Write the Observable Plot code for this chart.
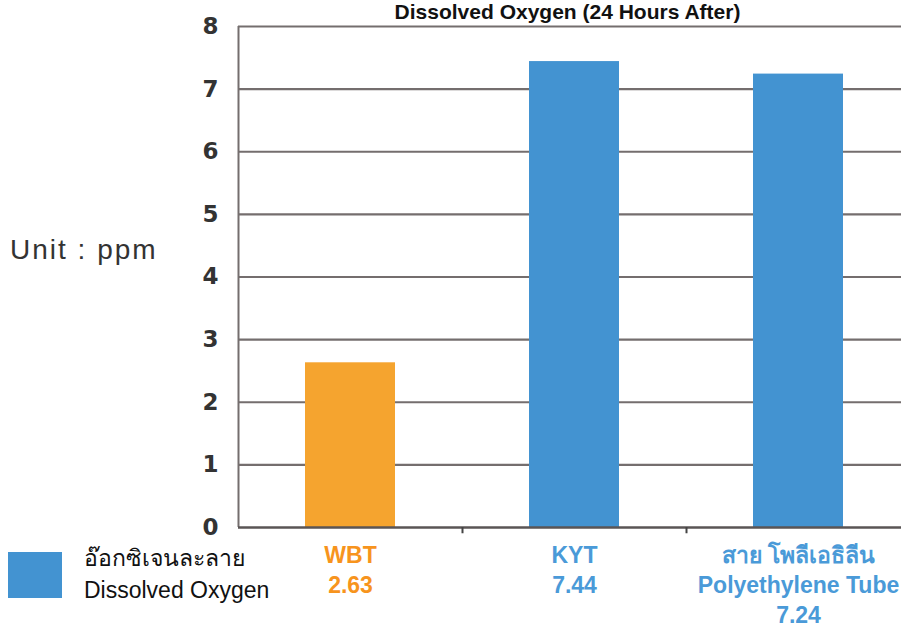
<!DOCTYPE html>
<html>
<head>
<meta charset="utf-8">
<script src="https://cdn.jsdelivr.net/npm/d3@7"></script>
<script src="https://cdn.jsdelivr.net/npm/@observablehq/plot@0.6"></script>
<style>
  html, body { margin: 0; padding: 0; background: #fff; }
  #wrap { position: relative; width: 901px; height: 632px; overflow: hidden; font-family: "Liberation Sans", Arial, "Noto Sans", sans-serif; }
  #unit { position: absolute; left: 10px; top: 236px; font-size: 28px; line-height: 28px; letter-spacing: 2px; color: #333; }
  #legend { position: absolute; left: 8px; top: 544px; display: flex; align-items: center; }
  #legend .sw { width: 54px; height: 46px; background: #4393D1; }
  #legend .lt { margin-left: 22px; font-size: 23px; color: #111; line-height: 32px; margin-top: -2px; }
</style>
</head>
<body>
<div id="wrap">
  <div id="chart"></div>
  <div id="unit">Unit : ppm</div>
  <div id="legend"><div class="sw"></div><div class="lt">อ๊อกซิเจนละลาย<br>Dissolved Oxygen</div></div>
</div>
<script>
const title = "Dissolved Oxygen (24 Hours After)";
const categories = ["WBT", "KYT", "สายโพลีเอธิลีน"];
const values = [2.63, 7.44, 7.24];
const labels = ["WBT\n2.63", "KYT\n7.44", "สาย โพลีเอธิลีน\nPolyethylene Tube\n7.24"];
const barColors = ["#F5A42F", "#4393D1", "#4393D1"];
const labelColors = ["#F7941D", "#4A9AD8", "#4A9AD8"];
const yTicks = [0, 1, 2, 3, 4, 5, 6, 7, 8];

const data = categories.map((c, i) => ({cat: c, value: values[i], label: labels[i], bar: barColors[i], lab: labelColors[i]}));

const chart = Plot.plot({
  width: 901,
  height: 632,
  marginLeft: 238,
  marginRight: 0,
  marginTop: 26,
  marginBottom: 105,
  style: {fontFamily: "'Liberation Sans', Arial, 'Noto Sans', sans-serif", background: "transparent", overflow: "visible"},
  x: {domain: categories, range: [238, 910], padding: 0, axis: null},
  y: {domain: [0, 8], axis: null},
  marks: [
    Plot.ruleY(yTicks.filter(d => d > 0), {stroke: "#746e6e", strokeWidth: 2.2}),
    Plot.barY(data, {x: "cat", y: "value", fill: "bar", insetLeft: 67, insetRight: 67}),
    Plot.ruleX([categories[0]], {x: d => d, dx: -112, y1: 0, y2: 8, stroke: "#746e6e", strokeWidth: 2}),
    Plot.ruleY([0], {stroke: "#5a5555", strokeWidth: 2.5}),
    Plot.ruleX(categories.slice(1), {x: d => d, dx: -112, y1: 0, y2: -0.1, stroke: "#444", strokeWidth: 2}),
    Plot.axisY({ticks: yTicks, label: null, tickSize: 0, tickPadding: 20, fontSize: 23, fontWeight: "bold", fontFamily: "'DejaVu Sans', sans-serif", fill: "#333", tickFormat: d => String(d)}),
    Plot.text(data, {x: "cat", text: "label", fill: "lab", frameAnchor: "bottom", lineAnchor: "top", dy: 14, fontSize: 23, fontWeight: "bold", lineHeight: 1.3}),
    Plot.text([title], {frameAnchor: "top", x: () => categories[1], dx: -7, lineAnchor: "bottom", dy: -8, fontSize: 21, fontWeight: "bold", fill: "#111"})
  ]
});
document.getElementById("chart").appendChild(chart);
</script>
</body>
</html>
